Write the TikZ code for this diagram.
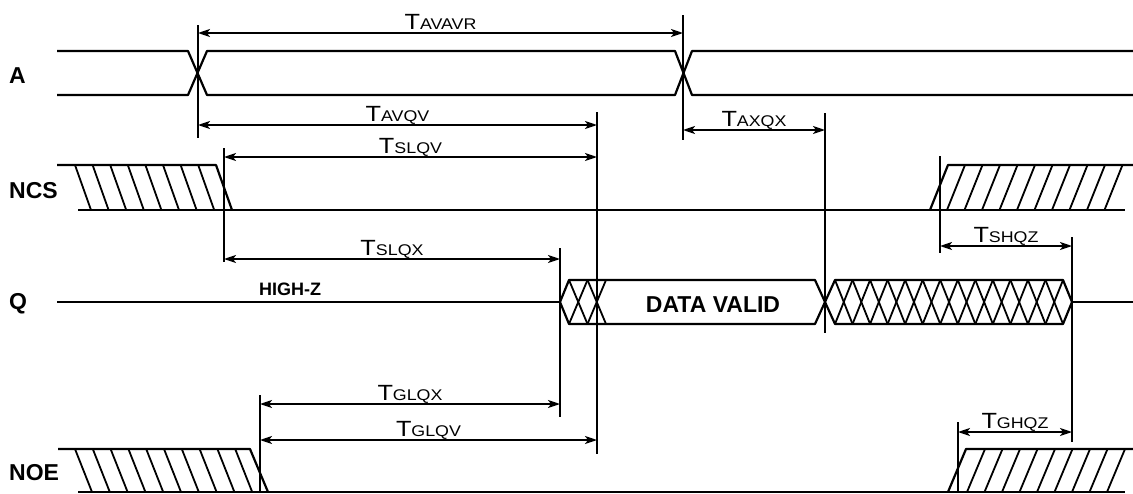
\documentclass[tikz,border=0pt]{standalone}
\usepackage{fontspec}
\setmainfont{Liberation Sans}
\newfontfamily\widesans[FakeStretch=1.15]{Liberation Sans}
\usetikzlibrary{arrows.meta}
\newcommand{\tsmall}[1]{{\fontsize{15.5}{16}\selectfont #1}}

\begin{document}
\begin{tikzpicture}[x=1pt, y=-1pt,
  sig/.style={line width=2.2pt, line join=round},
  hatch/.style={line width=1.8pt},
  vline/.style={line width=1.8pt},
  tarrow/.style={{Stealth[length=12pt,width=8pt,inset=3pt]}-{Stealth[length=12pt,width=8pt,inset=3pt]}, line width=1.8pt},
  tlab/.style={anchor=base, yshift=4pt, inner sep=0pt, font=\widesans\fontsize{22}{22}\selectfont},
  sname/.style={anchor=base west, inner sep=0pt, font=\bfseries\fontsize{23}{23}\selectfont}]
\fill[white] (0,0) rectangle (1133,493);
\useasboundingbox (0,0) rectangle (1133,493);

% Signal names
\node[sname] (nameA) at (9,83) {A};
\node[sname] (nameNCS) at (9,198) {NCS};
\node[sname] (nameQ) at (9,309) {Q};
\node[sname] (nameNOE) at (9,480) {NOE};

% A
\draw[sig] (57,51) -- (188,51) -- (207,95) -- (675,95) -- (692,51) -- (1133,51);
\draw[sig] (57,95) -- (188,95) -- (207,51) -- (675,51) -- (692,95) -- (1133,95);

% NCS
\draw[sig] (57,165) -- (216,165) -- (232,210);
\draw[sig] (78,210) -- (1125,210);
\draw[sig] (930,210) -- (948,165) -- (1133,165);
\foreach \k in {0,...,7}
  \draw[hatch] ({75+17.6*\k},165) -- ++(16,45);
\foreach \k in {0,...,9}
  \draw[hatch] ({947+17.5*\k},210) -- ++(18,-45);

% Q
\draw[sig] (57,302) -- (560,302);
\draw[sig] (560,302) -- (569,280) -- (815,280) -- (825,302) -- (815,324) -- (569,324) -- cycle;
\draw[sig] (825,302) -- (835,280) -- (1063,280) -- (1072,302) -- (1063,324) -- (835,324) -- cycle;
\draw[sig] (1072,302) -- (1133,302);
\foreach \k in {0,1} {
  \draw[hatch] ({569+18.5*\k},280) -- ++(18.5,44);
  \draw[hatch] ({569+18.5*\k},324) -- ++(18.5,-44);
}
\foreach \k in {0,...,12} {
  \draw[hatch] ({835+17.54*\k},280) -- ++(17.54,44);
  \draw[hatch] ({835+17.54*\k},324) -- ++(17.54,-44);
}
\node[anchor=base, inner sep=0pt, font=\bfseries\fontsize{18}{18}\selectfont] (highz) at (290,295) {HIGH-Z};
\node[anchor=base, inner sep=0pt, font=\bfseries\fontsize{23}{23}\selectfont] (valid) at (713,312) {DATA VALID};

% NOE
\draw[sig] (58,449) -- (250,449) -- (268,492);
\draw[sig] (78,492) -- (1125,492);
\draw[sig] (948,492) -- (966,449) -- (1133,449);
\foreach \k in {0,...,9}
  \draw[hatch] ({75+17.8*\k},449) -- ++(17,43);
\foreach \k in {0,...,8}
  \draw[hatch] ({967+17.5*\k},492) -- ++(18,-43);

% Timing marks
\foreach \xx/\ya/\yb in {198/25/138, 683/15/140, 224/148/262, 597/112/454, 825/113/333,
                         560/248/417, 940/156/253, 1072/237/442, 260/395/493, 958/422/493}
  \draw[vline] (\xx,\ya) -- (\xx,\yb);

% Timing parameters
\foreach \nm/\xa/\xb/\yy/\lab in {avavr/198/683/33/AVAVR, avqv/198/597/125/AVQV,
                                  slqv/224/597/157/SLQV, axqx/683/825/130/AXQX,
                                  slqx/224/560/259/SLQX, shqz/940/1072/246/SHQZ,
                                  glqx/260/560/404/GLQX, glqv/260/597/440/GLQV,
                                  ghqz/958/1072/432/GHQZ} {
  \coordinate (\nm-l) at (\xa,\yy);
  \coordinate (\nm-r) at (\xb,\yy);
  \draw[tarrow] (\nm-l) -- (\nm-r) node[tlab, midway] (lab-\nm) {T\tsmall{\lab}};
}
\end{tikzpicture}
\end{document}
